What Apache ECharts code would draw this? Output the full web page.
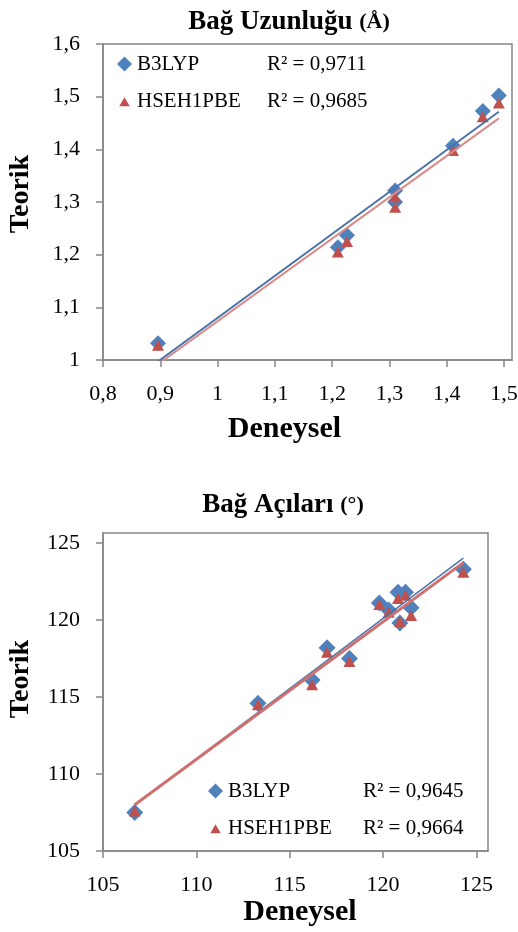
<!DOCTYPE html>
<html>
<head>
<meta charset="utf-8">
<title>Bağ Uzunluğu / Bağ Açıları</title>
<script src="https://cdn.jsdelivr.net/npm/echarts@6/dist/echarts.min.js"></script>
<style>
    html, body { margin: 0; padding: 0; background: #fff; }
    #main { width: 518px; height: 932px; }
</style>
</head>
<body>
<div id="main"></div>
<script>
// bond lengths (Å): experimental vs theoretical
var lenExp   = [0.896, 1.210, 1.226, 1.310, 1.310, 1.411, 1.463, 1.491];
var lenB3lyp = [1.032, 1.214, 1.237, 1.322, 1.300, 1.407, 1.473, 1.502];
var lenHse   = [1.028, 1.205, 1.225, 1.310, 1.290, 1.398, 1.462, 1.488];

// bond angles (°)
var angExp   = [106.7, 113.3, 116.2, 117.0, 118.2, 119.8, 120.3, 120.8, 121.2, 120.9, 121.5, 124.3];
var angB3lyp = [107.5, 114.6, 116.1, 118.2, 117.5, 121.1, 120.65, 121.8, 121.8, 119.8, 120.8, 123.3];
var angHse   = [107.6, 114.5, 115.8, 117.9, 117.3, 121.0, 120.5, 121.4, 121.6, 119.9, 120.3, 123.1];

var lenTicksX = [0.8, 0.9, 1.0, 1.1, 1.2, 1.3, 1.4, 1.5];
var lenTicksY = [1.0, 1.1, 1.2, 1.3, 1.4, 1.5, 1.6];
var angTicks  = [105, 110, 115, 120, 125];

var seriesNames = ['B3LYP', 'HSEH1PBE'];
var r2Len = ['0,9711', '0,9685'];
var r2Ang = ['0,9645', '0,9664'];

var BLUE = '#4F81BD', RED = '#C0504D', AXIS = '#868686', FONT = 'Liberation Serif';
// small triangle for the legend (extra move-to points pad the box)
var TRI_ICON = 'path://M0,0M20,20M3,17L10,5L17,17Z';

function pairs(xs, ys) {
    return xs.map(function (x, i) { return [x, ys[i]]; });
}

// least squares trendline, like Excel's linear trendline
function trend(xs, ys) {
    var n = xs.length, mx = 0, my = 0, sxy = 0, sxx = 0;
    xs.forEach(function (x, i) { mx += x / n; my += ys[i] / n; });
    xs.forEach(function (x, i) { sxy += (x - mx) * (ys[i] - my); sxx += (x - mx) * (x - mx); });
    var b = sxy / sxx, a = my - b * mx;
    var x0 = Math.min.apply(null, xs), x1 = Math.max.apply(null, xs);
    return [[x0, a + b * x0], [x1, a + b * x1]];
}

function comma(v) {
    return String(+v.toFixed(2)).replace('.', ',');
}

function valueAxis(grid, min, max, ticks, fmt, name, nameGap, namePad, isY) {
    return {
        gridIndex: grid, type: 'value', min: min, max: max,
        axisLine: { show: true, onZero: false, lineStyle: { color: AXIS, width: 1.5 } },
        axisTick: { show: true, customValues: ticks, length: 7, lineStyle: { color: AXIS, width: 1.5 } },
        axisLabel: { customValues: ticks, formatter: fmt, color: '#000', fontFamily: FONT, fontSize: 22, margin: isY ? 23 : 23 },
        splitLine: { show: false },
        name: name, nameLocation: 'middle', nameGap: nameGap,
        nameTextStyle: { color: '#000', fontFamily: FONT, fontSize: isY ? 28 : 30, fontWeight: 'bold', padding: namePad }
    };
}

function legendFor(left, top, r2, nameWidth) {
    return {
        left: left, top: top, orient: 'vertical',
        data: [{ name: seriesNames[0], icon: 'diamond' }, { name: seriesNames[1], icon: TRI_ICON }],
        itemWidth: 15, itemHeight: 15, itemGap: 13,
        selectedMode: false,
        formatter: function (name) {
            return '{n|' + name + '}{r|R² = ' + r2[seriesNames.indexOf(name)] + '}';
        },
        textStyle: {
            color: '#000', fontFamily: FONT, fontSize: 21, lineHeight: 24,
            rich: { n: { width: nameWidth, fontFamily: FONT, fontSize: 21 }, r: { fontFamily: FONT, fontSize: 21 } }
        }
    };
}

function scatter(name, grid, data, symbol, size, color) {
    return {
        name: name, type: 'scatter', xAxisIndex: grid, yAxisIndex: grid,
        data: data, symbol: symbol, symbolSize: size,
        itemStyle: { color: color, opacity: 1 }, silent: true
    };
}

function trendLine(grid, data, color, width) {
    return {
        type: 'line', xAxisIndex: grid, yAxisIndex: grid, data: data,
        symbol: 'none', clip: true, silent: true, z: 3,
        lineStyle: { color: color, width: width }
    };
}

var chart = echarts.init(document.getElementById('main'), null, { renderer: 'canvas' });

var titleStyle = {
    color: '#000', fontFamily: FONT, fontSize: 27, fontWeight: 'bold',
    rich: {
        a: { fontFamily: FONT, fontSize: 27, fontWeight: 'bold', color: '#000' },
        b: { fontFamily: FONT, fontSize: 22, fontWeight: 'bold', color: '#000' }
    }
};

chart.setOption({
    animation: false,
    backgroundColor: '#fff',
    title: [
        { text: '{a|Bağ Uzunluğu }{b|(Å)}', left: 284, top: 4, textAlign: 'center', textStyle: titleStyle },
        { text: '{a|Bağ Açıları }{b|(°)}', left: 278, top: 487, textAlign: 'center', textStyle: titleStyle }
    ],
    grid: [
        { left: 103, right: 6, top: 44, bottom: 572, show: true, borderColor: AXIS, borderWidth: 1.5,
          containLabel: false, outerBoundsMode: 'none' },
        { left: 103, right: 30, top: 533, bottom: 81, show: true, borderColor: AXIS, borderWidth: 1.5,
          containLabel: false, outerBoundsMode: 'none' }
    ],
    legend: [
        legendFor(112, 47, r2Len, 130),
        legendFor(203, 774, r2Ang, 135)
    ],
    xAxis: [
        valueAxis(0, 0.8, 1.514, lenTicksX, comma, 'Deneysel', 54, [0, 46, 0, 0], false),
        valueAxis(1, 105, 125.62, angTicks, null, 'Deneysel', 45, [0, 0, 0, 9], false)
    ],
    yAxis: [
        valueAxis(0, 1.0, 1.6, lenTicksY, comma, 'Teorik', 68, [0, 0, 0, 16], true),
        valueAxis(1, 105, 125.65, angTicks, null, 'Teorik', 68, [0, 0, 0, 26], true)
    ],
    series: [
        scatter('B3LYP', 0, pairs(lenExp, lenB3lyp), 'diamond', [16, 16], BLUE),
        scatter('HSEH1PBE', 0, pairs(lenExp, lenHse), 'triangle', [12, 11], RED),
        trendLine(0, trend(lenExp, lenB3lyp), '#4A74A8', 2),
        trendLine(0, trend(lenExp, lenHse), '#DA8A88', 2),

        scatter('B3LYP', 1, pairs(angExp, angB3lyp), 'diamond', [17, 17], BLUE),
        scatter('HSEH1PBE', 1, pairs(angExp, angHse), 'triangle', [12, 11], RED),
        trendLine(1, trend(angExp, angB3lyp), '#4A74A8', 1.5),
        trendLine(1, trend(angExp, angHse), '#D0706E', 3)
    ]
});
</script>
</body>
</html>
